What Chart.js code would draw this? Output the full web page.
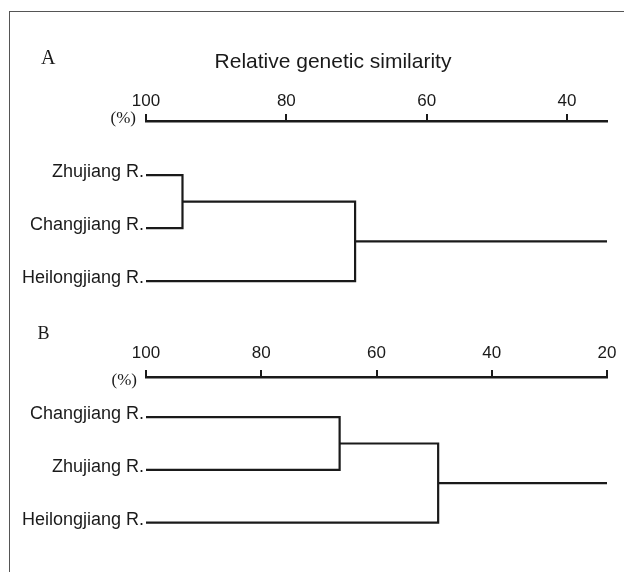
<!DOCTYPE html>
<html><head><meta charset="utf-8">
<script src="https://cdn.jsdelivr.net/npm/chart.js@4"></script>
<style>
html,body{margin:0;padding:0;background:#fff;}
#wrap{position:relative;width:624px;height:572px;overflow:hidden;background:#fff;}
#frame{position:absolute;left:9px;top:11px;width:700px;height:700px;border-top:1px solid #555;border-left:1px solid #555;}
canvas{position:absolute;left:0;}
#cA{top:0}
#cB{top:290px}
</style></head><body>
<div id="wrap"><div id="frame"></div><canvas id="cA" width="624" height="320"></canvas><canvas id="cB" width="624" height="282"></canvas></div>
<script>
// Panel A
const leavesA = ['Zhujiang R.', 'Changjiang R.', 'Heilongjiang R.'];
const mergesA = [[0, 1, 94.8], [3, 2, 70.2]]; // [node a, node b, similarity %]; new nodes numbered after leaves
const axisEndA = 34.3;
const ticksA = [100, 80, 60, 40];
// Panel B
const leavesB = ['Changjiang R.', 'Zhujiang R.', 'Heilongjiang R.'];
const mergesB = [[0, 1, 66.4], [3, 2, 49.3]];
const axisEndB = 20;
const ticksB = [100, 80, 60, 40, 20];

const INK = '#1a1a1a';
const SANS = 'Liberation Sans, Arial, sans-serif';
const SERIF = 'Liberation Serif, Times New Roman, serif';

function buildSegments(leaves, merges, axisEnd) {
  const nodes = leaves.map((_, i) => ({ y: i, h: 100 }));
  const segs = [];
  merges.forEach(([a, b, h]) => {
    const na = nodes[a], nb = nodes[b];
    segs.push([{ x: na.h, y: na.y }, { x: h, y: na.y }, { x: h, y: nb.y }, { x: nb.h, y: nb.y }]);
    nodes.push({ y: (na.y + nb.y) / 2, h: h });
  });
  const root = nodes[nodes.length - 1];
  segs.push([{ x: root.h, y: root.y }, { x: axisEnd, y: root.y }]);
  return segs;
}

function textPlugin(o) {
  return {
    id: 'panelText',
    afterDraw(chart) {
      const ctx = chart.ctx, ca = chart.chartArea;
      ctx.save();
      ctx.fillStyle = INK;
      ctx.textBaseline = 'alphabetic';
      ctx.textAlign = 'left';
      ctx.font = o.panelSize + 'px ' + SERIF;
      ctx.fillText(o.panel, o.panelX, o.panelY);
      if (o.title) {
        ctx.textAlign = 'center';
        ctx.font = '21px ' + SANS;
        ctx.fillText(o.title, o.titleX, o.titleY);
      }
      ctx.textAlign = 'right';
      ctx.font = '17px ' + SERIF;
      ctx.fillText('(%)', ca.left - o.pctGap, o.pctY);
      ctx.restore();
    }
  };
}

function makeChart(id, leaves, merges, axisEnd, ticks, o) {
  const segs = buildSegments(leaves, merges, axisEnd);
  return new Chart(document.getElementById(id), {
    type: 'scatter',
    data: {
      datasets: segs.map(seg => ({
        data: seg, showLine: true, pointRadius: 0, pointHoverRadius: 0,
        borderColor: INK, borderWidth: 2.2, borderCapStyle: 'butt',
        borderJoinStyle: 'miter', tension: 0, fill: false, clip: false
      }))
    },
    options: {
      responsive: false, animation: false, events: [],
      layout: { padding: { left: 0, right: 17, top: o.padTop, bottom: o.padBottom } },
      plugins: { legend: { display: false }, tooltip: { enabled: false } },
      scales: {
        x: {
          type: 'linear', position: 'top', reverse: true, min: axisEnd, max: 100,
          afterBuildTicks: s => { s.ticks = ticks.map(v => ({ value: v })); },
          afterFit: s => { s.height = o.xHeight; },
          grid: { drawOnChartArea: false, drawTicks: true, tickLength: 7, color: INK, lineWidth: 2 },
          border: { display: true, color: INK, width: 2.5 },
          ticks: { font: { family: SANS, size: 17 }, color: INK, padding: o.tickPad, maxRotation: 0, autoSkip: false }
        },
        y: {
          type: 'linear', reverse: true, min: o.yMin, max: o.yMax,
          afterFit: s => { s.width = 146; },
          afterBuildTicks: s => { s.ticks = leaves.map((_, i) => ({ value: i })); },
          grid: { display: false, drawTicks: false },
          border: { display: false },
          ticks: {
            callback: v => leaves[v], font: { family: SANS, size: 18 }, color: INK,
            padding: 2, labelOffset: -3, autoSkip: false
          }
        }
      }
    },
    plugins: [textPlugin(o)]
  });
}

makeChart('cA', leavesA, mergesA, axisEndA, ticksA, {
  padTop: 81, xHeight: 40, padBottom: 20, tickPad: 2, yMin: -1.02, yMax: 2.357,
  panel: 'A', panelSize: 20, panelX: 41, panelY: 63.5,
  title: 'Relative genetic similarity', titleX: 333, titleY: 68,
  pctGap: 10, pctY: 123
});
makeChart('cB', leavesB, mergesB, axisEndB, ticksB, {
  padTop: 47, xHeight: 40, padBottom: 24, tickPad: 6, yMin: -0.76, yMax: 2.48,
  panel: 'B', panelSize: 18, panelX: 37.5, panelY: 48.5,
  title: null, pctGap: 9, pctY: 95
});
</script>
</body></html>
